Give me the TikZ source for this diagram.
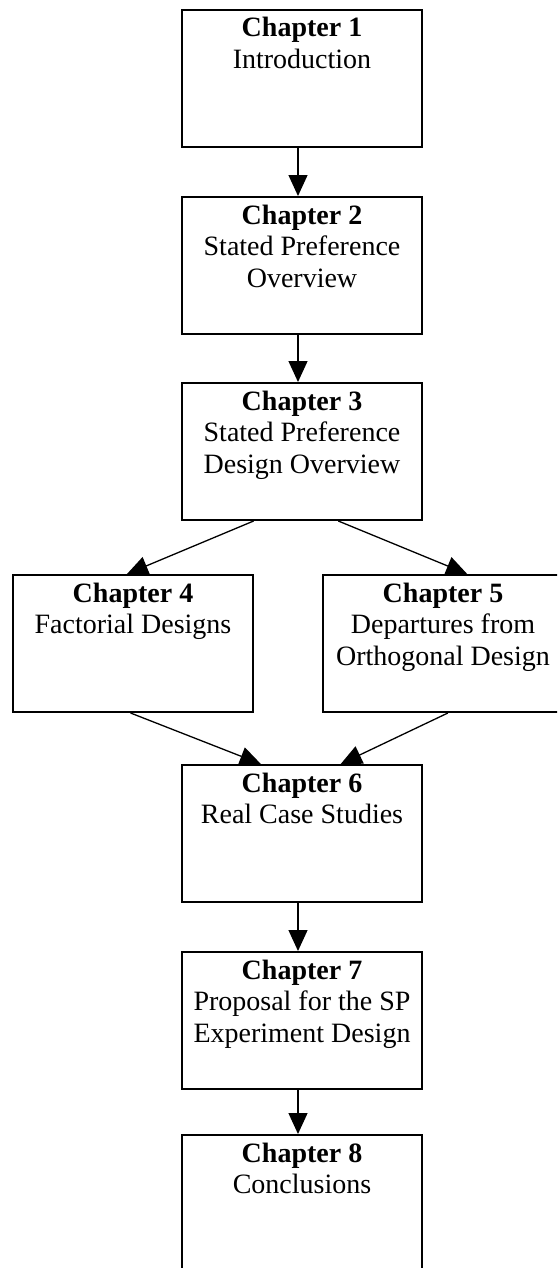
\documentclass[tikz,border=0pt]{standalone}
\usepackage{fontspec}
\setmainfont{Liberation Serif}
\usetikzlibrary{arrows.meta,calc}
% box contents: bold chapter heading, then the title lines, set from the top
\newcommand\chaptext[2]{\parbox[t][68.5pt][t]{120pt}{\centering\fontsize{14}{15.75}\selectfont
  \rule{0pt}{13.5pt}\textbf{Chapter #1}\\#2}}
\begin{document}
\begin{tikzpicture}[x=0.5pt,y=-0.5pt,
  chapbox/.style={draw, line width=1pt, inner sep=0pt, anchor=north,
    minimum width=120pt, minimum height=68.5pt},
  flow/.style={line width=0.65pt, -{Triangle[width=9.5pt,length=10.5pt]}},
]
\clip (0,0) rectangle (557,1268);

\node[chapbox] (c1) at (302,9)    {\chaptext{1}{Introduction}};
\node[chapbox] (c2) at (302,196)  {\chaptext{2}{Stated Preference\\Overview}};
\node[chapbox] (c3) at (302,382)  {\chaptext{3}{Stated Preference\\Design Overview}};
\node[chapbox] (c4) at (133,574)  {\chaptext{4}{Factorial Designs}};
\node[chapbox] (c5) at (443,574)  {\chaptext{5}{Departures from\\Orthogonal Design}};
\node[chapbox] (c6) at (302,764)  {\chaptext{6}{Real Case Studies}};
\node[chapbox] (c7) at (302,951)  {\chaptext{7}{Proposal for the SP\\Experiment Design}};
\node[chapbox] (c8) at (302,1134) {\chaptext{8}{Conclusions}};

% straight links down the middle column
\draw[flow] ($(c1.south)+(-4,0)$) -- ($(c2.north)+(-4,0)$);
\draw[flow] ($(c2.south)+(-4,0)$) -- ($(c3.north)+(-4,0)$);
\draw[flow] ($(c6.south)+(-4,0)$) -- ($(c7.north)+(-4,0)$);
\draw[flow] ($(c7.south)+(-4,0)$) -- ($(c8.north)+(-4,0)$);

% branching and merging links
\draw[flow] ($(c3.south west)!0.30!(c3.south east)$) -- ($(c4.north west)!0.475!(c4.north east)$);
\draw[flow] ($(c3.south west)!0.65!(c3.south east)$) -- ($(c5.north west)!0.60!(c5.north east)$);
\draw[flow] ($(c4.south west)!0.49!(c4.south east)$) -- ($(c6.north west)!0.33!(c6.north east)$);
\draw[flow] ($(c5.south west)!0.52!(c5.south east)$) -- ($(c6.north west)!0.66!(c6.north east)$);
\end{tikzpicture}
\end{document}
